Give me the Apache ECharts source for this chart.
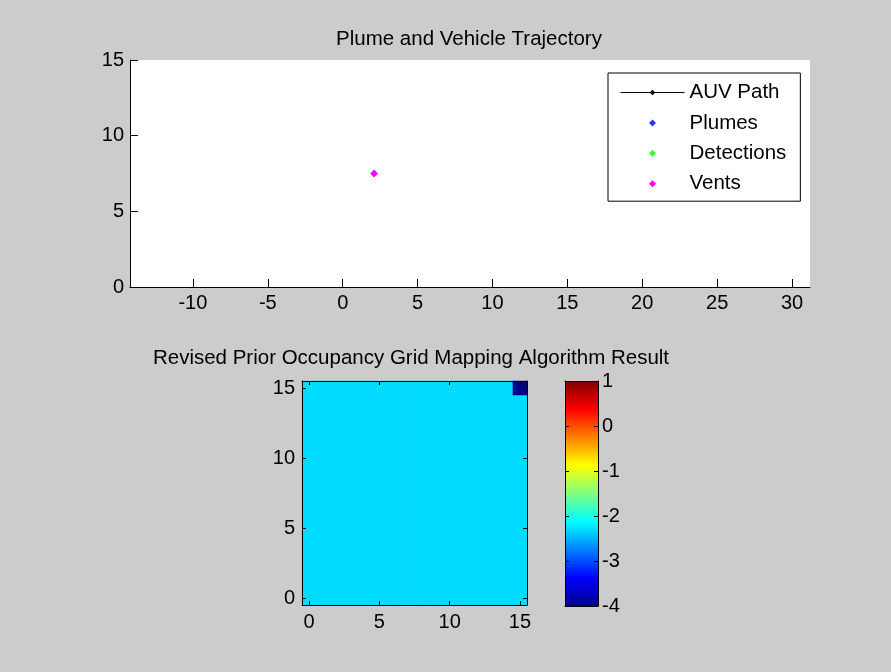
<!DOCTYPE html>
<html>
<head>
<meta charset="utf-8">
<script src="https://cdn.jsdelivr.net/npm/echarts@6/dist/echarts.min.js"></script>
<style>
html,body{margin:0;padding:0;background:#CCCCCC;}
#chart{width:891px;height:672px;}
</style>
</head>
<body>
<div id="chart"></div>
<script>
// ---- data ----
const trajXTicks = [-10, -5, 0, 5, 10, 15, 20, 25, 30];
const trajYTicks = [0, 5, 10, 15];
const auvPath = [];
const plumes = [];
const detections = [];
const vents = [[2.1, 7.5]];

const gridCats = ['0','1','2','3','4','5','6','7','8','9','10','11','12','13','14','15'];
const gridTickLabels = ['0','5','10','15'];
// gridValues[row] : row 0 = y 0 (bottom), column = x
const gridValues = [
  [-2.3,-2.3,-2.3,-2.3,-2.3,-2.3,-2.3,-2.3,-2.3,-2.3,-2.3,-2.3,-2.3,-2.3,-2.3,-2.3],
  [-2.3,-2.3,-2.3,-2.3,-2.3,-2.3,-2.3,-2.3,-2.3,-2.3,-2.3,-2.3,-2.3,-2.3,-2.3,-2.3],
  [-2.3,-2.3,-2.3,-2.3,-2.3,-2.3,-2.3,-2.3,-2.3,-2.3,-2.3,-2.3,-2.3,-2.3,-2.3,-2.3],
  [-2.3,-2.3,-2.3,-2.3,-2.3,-2.3,-2.3,-2.3,-2.3,-2.3,-2.3,-2.3,-2.3,-2.3,-2.3,-2.3],
  [-2.3,-2.3,-2.3,-2.3,-2.3,-2.3,-2.3,-2.3,-2.3,-2.3,-2.3,-2.3,-2.3,-2.3,-2.3,-2.3],
  [-2.3,-2.3,-2.3,-2.3,-2.3,-2.3,-2.3,-2.3,-2.3,-2.3,-2.3,-2.3,-2.3,-2.3,-2.3,-2.3],
  [-2.3,-2.3,-2.3,-2.3,-2.3,-2.3,-2.3,-2.3,-2.3,-2.3,-2.3,-2.3,-2.3,-2.3,-2.3,-2.3],
  [-2.3,-2.3,-2.3,-2.3,-2.3,-2.3,-2.3,-2.3,-2.3,-2.3,-2.3,-2.3,-2.3,-2.3,-2.3,-2.3],
  [-2.3,-2.3,-2.3,-2.3,-2.3,-2.3,-2.3,-2.3,-2.3,-2.3,-2.3,-2.3,-2.3,-2.3,-2.3,-2.3],
  [-2.3,-2.3,-2.3,-2.3,-2.3,-2.3,-2.3,-2.3,-2.3,-2.3,-2.3,-2.3,-2.3,-2.3,-2.3,-2.3],
  [-2.3,-2.3,-2.3,-2.3,-2.3,-2.3,-2.3,-2.3,-2.3,-2.3,-2.3,-2.3,-2.3,-2.3,-2.3,-2.3],
  [-2.3,-2.3,-2.3,-2.3,-2.3,-2.3,-2.3,-2.3,-2.3,-2.3,-2.3,-2.3,-2.3,-2.3,-2.3,-2.3],
  [-2.3,-2.3,-2.3,-2.3,-2.3,-2.3,-2.3,-2.3,-2.3,-2.3,-2.3,-2.3,-2.3,-2.3,-2.3,-2.3],
  [-2.3,-2.3,-2.3,-2.3,-2.3,-2.3,-2.3,-2.3,-2.3,-2.3,-2.3,-2.3,-2.3,-2.3,-2.3,-2.3],
  [-2.3,-2.3,-2.3,-2.3,-2.3,-2.3,-2.3,-2.3,-2.3,-2.3,-2.3,-2.3,-2.3,-2.3,-2.3,-2.3],
  [-2.3,-2.3,-2.3,-2.3,-2.3,-2.3,-2.3,-2.3,-2.3,-2.3,-2.3,-2.3,-2.3,-2.3,-2.3,-4.0]
];
const colorMin = -4;
const colorMax = 1;
const jetColors = ['#00008F','#0000FF','#0080FF','#00FFFF','#80FF80','#FFFF00','#FF8000','#FF0000','#800000'];

// ---- build ----
const FONT = 'Liberation Sans, Arial, Helvetica, sans-serif';
const FS = 20;
const TXT = '#000';

const heatData = [];
gridValues.forEach((row, y) => row.forEach((v, x) => heatData.push([x, y, v])));

const isGridTick = (i, v) => gridTickLabels.includes(v);

const catAxis = (pos, showLabel) => ({
  type: 'category', gridIndex: 1, data: gridCats, position: pos, z: 5,
  boundaryGap: true,
  axisLine: {show: true, onZero: false, lineStyle: {color: '#000', width: 1}},
  axisTick: {show: true, inside: true, length: 4, alignWithLabel: true, interval: isGridTick, lineStyle: {color: '#000'}},
  axisLabel: {show: showLabel, interval: isGridTick, margin: 7, color: TXT, fontFamily: FONT, fontSize: FS},
  splitLine: {show: false}
});

const jetStops = jetColors.map((c, i) => ({offset: i / (jetColors.length - 1), color: c}));

const option = {
  backgroundColor: '#CCCCCC',
  animation: false,
  title: [
    {text: 'Plume and Vehicle Trajectory', left: 464, textAlign: 'center', top: 24,
     textStyle: {fontFamily: FONT, fontSize: 20.5, fontWeight: 'normal', color: TXT}},
    {text: 'Revised Prior Occupancy Grid Mapping Algorithm Result', left: 406, textAlign: 'center', top: 343,
     textStyle: {fontFamily: FONT, fontSize: 20.5, fontWeight: 'normal', color: TXT}}
  ],
  legend: {
    orient: 'vertical', left: 608, top: 73,
    itemWidth: 64, itemHeight: 7, itemGap: 9.4,
    padding: [9, 14, 7, 12],
    backgroundColor: '#fff', borderColor: '#000', borderWidth: 1, borderRadius: 0,
    textStyle: {fontFamily: FONT, fontSize: 20.5, color: TXT, lineHeight: 20},
    lineStyle: {width: 1, color: '#000'},
    selectedMode: false,
    data: [
      {name: 'AUV Path'},
      {name: 'Plumes', icon: 'path://M0,-1L1,0L0,1L-1,0Z'},
      {name: 'Detections', icon: 'path://M0,-1L1,0L0,1L-1,0Z'},
      {name: 'Vents', icon: 'path://M0,-1L1,0L0,1L-1,0Z'}
    ]
  },
  visualMap: {
    show: false, type: 'continuous', min: colorMin, max: colorMax, seriesIndex: 4,
    inRange: {color: jetColors}
  },
  grid: [
    {left: 130, top: 60, width: 680, height: 227, show: true, backgroundColor: '#fff', borderWidth: 0},
    {left: 302, top: 381, width: 225, height: 224, show: false},
    {left: 565, top: 381, width: 33, height: 225, show: false}
  ],
  xAxis: [
    {type: 'value', gridIndex: 0, min: -14.2, max: 31.2, z: 5,
     axisLine: {show: true, onZero: false, lineStyle: {color: '#000'}},
     axisTick: {show: true, inside: true, length: 8, customValues: trajXTicks, lineStyle: {color: '#000'}},
     axisLabel: {customValues: trajXTicks, margin: 6, color: TXT, fontFamily: FONT, fontSize: FS},
     splitLine: {show: false}},
    catAxis('bottom', true),
    catAxis('top', false),
    {type: 'category', gridIndex: 2, data: ['cb'], position: 'bottom', z: 5,
     axisLine: {show: true, onZero: false, lineStyle: {color: '#000'}},
     axisTick: {show: false}, axisLabel: {show: false}, splitLine: {show: false}},
    {type: 'category', gridIndex: 2, data: ['cb'], position: 'top', z: 5,
     axisLine: {show: true, onZero: false, lineStyle: {color: '#000'}},
     axisTick: {show: false}, axisLabel: {show: false}, splitLine: {show: false}}
  ],
  yAxis: [
    {type: 'value', gridIndex: 0, min: 0, max: 15, z: 5,
     axisLine: {show: true, onZero: false, lineStyle: {color: '#000'}},
     axisTick: {show: true, inside: true, length: 8, customValues: trajYTicks, lineStyle: {color: '#000'}},
     axisLabel: {customValues: trajYTicks, margin: 6, color: TXT, fontFamily: FONT, fontSize: FS},
     splitLine: {show: false}},
    catAxis('left', true),
    catAxis('right', false),
    {type: 'value', gridIndex: 2, min: colorMin, max: colorMax, interval: 1, position: 'right', z: 5,
     axisLine: {show: true, onZero: false, lineStyle: {color: '#000'}},
     axisTick: {show: true, inside: true, length: 4, lineStyle: {color: '#000'}},
     axisLabel: {margin: 4, color: TXT, fontFamily: FONT, fontSize: FS},
     splitLine: {show: false}},
    {type: 'value', gridIndex: 2, min: colorMin, max: colorMax, interval: 1, position: 'left', z: 5,
     axisLine: {show: true, onZero: false, lineStyle: {color: '#000'}},
     axisTick: {show: true, inside: true, length: 4, lineStyle: {color: '#000'}},
     axisLabel: {show: false}, splitLine: {show: false}},
    {type: 'value', gridIndex: 2, min: 0, max: 1, show: false}
  ],
  series: [
    {name: 'AUV Path', type: 'line', xAxisIndex: 0, yAxisIndex: 0, data: auvPath,
     symbol: 'diamond', symbolSize: 6, color: '#000', lineStyle: {color: '#000', width: 1}},
    {name: 'Plumes', type: 'scatter', xAxisIndex: 0, yAxisIndex: 0, data: plumes,
     symbol: 'diamond', symbolSize: 7, color: '#0000FF'},
    {name: 'Detections', type: 'scatter', xAxisIndex: 0, yAxisIndex: 0, data: detections,
     symbol: 'diamond', symbolSize: 7, color: '#00FF00'},
    {name: 'Vents', type: 'scatter', xAxisIndex: 0, yAxisIndex: 0, data: vents,
     symbol: 'diamond', symbolSize: 8, color: '#FF00FF', itemStyle: {opacity: 1}},
    {name: 'Grid', type: 'heatmap', xAxisIndex: 1, yAxisIndex: 1, data: heatData,
     itemStyle: {borderWidth: 0}, emphasis: {disabled: true}},
    {name: 'Colorbar', type: 'bar', xAxisIndex: 3, yAxisIndex: 5, data: [1], barWidth: '100%',
     itemStyle: {color: new echarts.graphic.LinearGradient(0, 1, 0, 0, jetStops)},
     emphasis: {disabled: true}}
  ]
};

const chart = echarts.init(document.getElementById('chart'), null, {renderer: 'canvas'});
chart.setOption(option);
</script>
</body>
</html>
